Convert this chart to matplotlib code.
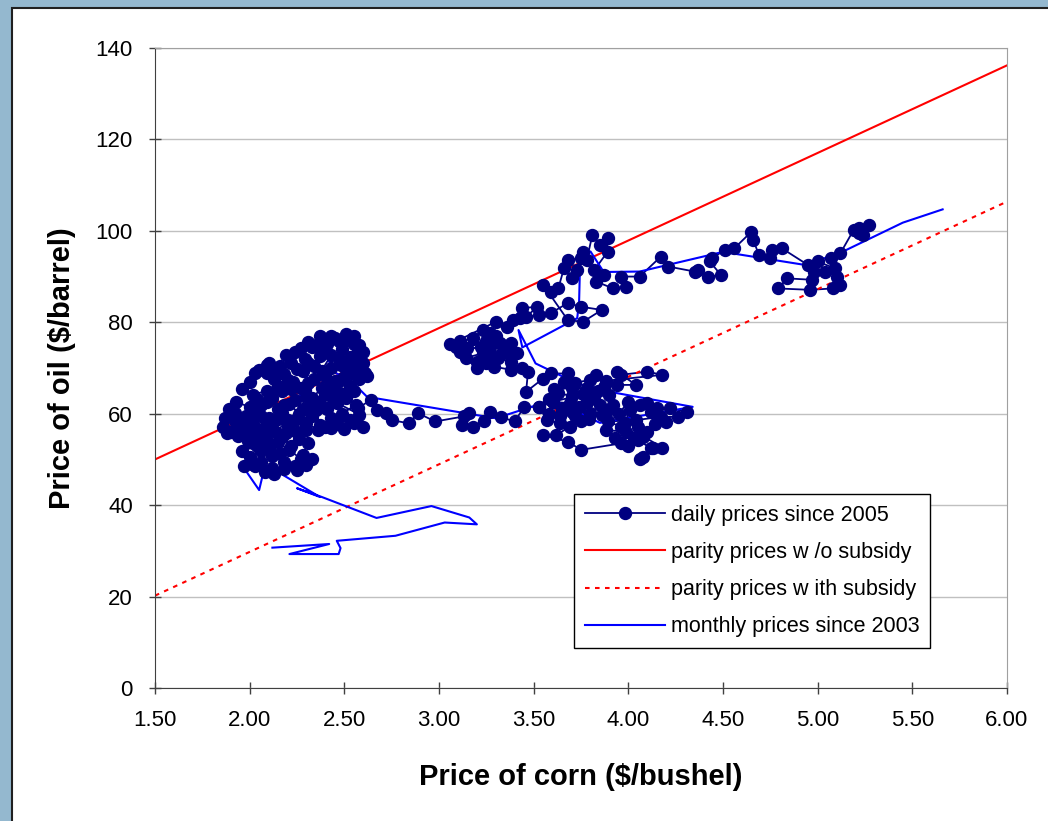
import matplotlib
matplotlib.use('Agg')
import matplotlib.pyplot as plt
from matplotlib.patches import Rectangle

plt.rcParams['font.family'] = ['Liberation Sans', 'DejaVu Sans']

# daily (corn $/bushel, oil $/barrel) prices, grouped by period
daily_2005_2006 = [
    (2.03, 48.5), (2.08, 47.2), (2.12, 48.2), (1.97, 48.6), (2.00, 50.5), (2.06, 51.8),
    (2.12, 50.8), (2.18, 49.5), (2.24, 48.6), (2.27, 50.2), (2.21, 52.0), (2.15, 53.8),
    (2.08, 55.0), (2.02, 53.5), (2.05, 56.5), (2.12, 57.8), (2.19, 55.8), (2.26, 54.4),
    (2.30, 56.5), (2.24, 58.6), (2.17, 60.2), (2.10, 59.0), (2.03, 60.8), (1.98, 59.4),
    (1.92, 60.2), (1.87, 59.0), (1.86, 57.2), (1.90, 56.1), (1.95, 57.3), (2.01, 58.2),
    (2.06, 61.8), (2.12, 63.5), (2.18, 62.0), (2.24, 63.0), (2.28, 61.0), (2.33, 59.6),
    (2.37, 57.6), (2.35, 60.8), (2.30, 63.6), (2.22, 65.4), (2.15, 66.0), (2.09, 65.0),
    (2.02, 64.2), (1.96, 65.3), (2.00, 67.0), (2.05, 69.6), (2.09, 68.8), (2.13, 67.6),
    (2.18, 68.6), (2.23, 67.0), (2.27, 65.6), (2.31, 66.8), (2.28, 69.4), (2.22, 71.0),
    (2.19, 72.8), (2.24, 73.6), (2.29, 72.0), (2.34, 70.4), (2.37, 72.6), (2.33, 74.6),
    (2.37, 76.9), (2.41, 75.2), (2.45, 76.6), (2.49, 74.2), (2.52, 76.2), (2.55, 76.9),
    (2.58, 75.0), (2.60, 73.6), (2.56, 71.8), (2.51, 70.3), (2.47, 72.0), (2.43, 70.0),
    (2.40, 68.2), (2.45, 67.2), (2.50, 68.0), (2.55, 68.6), (2.58, 67.6), (2.61, 69.0),
    (2.62, 68.2), (2.53, 66.0), (2.46, 65.0), (2.40, 64.4), (2.36, 62.6), (2.41, 61.0),
    (2.10, 52.5), (2.16, 51.5), (2.22, 53.0), (2.17, 55.0), (2.11, 56.2), (2.04, 55.5),
    (1.99, 54.0), (2.03, 57.2), (2.09, 58.0), (2.15, 58.8), (2.20, 57.4), (2.25, 56.0),
    (2.31, 53.6), (2.28, 51.0), (2.33, 50.0), (2.30, 48.8), (2.25, 47.6), (2.18, 47.8),
    (2.13, 46.9), (2.06, 49.4), (2.01, 49.0), (1.96, 51.8), (2.04, 53.0), (2.09, 54.0),
    (2.14, 56.0), (2.20, 58.6), (2.26, 60.0), (2.21, 62.2), (2.15, 61.0), (2.09, 62.6),
    (2.04, 63.2), (2.00, 61.5), (1.93, 62.5), (1.89, 61.0), (1.92, 58.4), (1.88, 55.8),
    (1.94, 55.2), (1.99, 56.5), (2.06, 59.6), (2.11, 64.5), (2.17, 65.0), (2.20, 67.4),
    (2.14, 69.2), (2.09, 70.6), (2.03, 69.0), (2.10, 71.0), (2.16, 70.4), (2.25, 69.8),
    (2.31, 71.2), (2.27, 74.4), (2.31, 75.6), (2.36, 75.2), (2.40, 73.6), (2.43, 77.0),
    (2.47, 75.8), (2.51, 77.4), (2.55, 75.2), (2.57, 73.8), (2.53, 72.4), (2.48, 70.6),
    (2.43, 72.8), (2.38, 69.4), (2.34, 67.6), (2.29, 65.2), (2.33, 63.4), (2.38, 65.6),
    (2.43, 66.6), (2.48, 67.4), (2.52, 69.6), (2.57, 70.2), (2.60, 71.0), (2.55, 65.0),
    (2.50, 64.0), (2.44, 63.2), (2.39, 61.4), (2.33, 61.8), (2.30, 58.0), (2.36, 56.4),
    (2.43, 56.8), (2.50, 56.6), (2.55, 58.0), (2.58, 59.8), (2.46, 62.4), (2.51, 63.4),
    (2.56, 62.0), (2.49, 60.0), (2.43, 59.0), (2.40, 57.2), (2.46, 57.8), (2.53, 58.6),
    (2.60, 57.2), (2.57, 61.2), (2.64, 63.0),
]
daily_late_2006 = [
    (2.67, 60.8), (2.72, 60.1), (2.75, 58.6), (2.84, 57.9), (2.89, 60.1), (2.98, 58.3),
    (3.13, 59.4), (3.16, 60.1), (3.12, 57.5), (3.18, 57.2), (3.24, 58.3), (3.27, 60.4),
    (3.33, 59.2), (3.40, 58.3), (3.45, 61.5), (3.53, 61.5), (3.57, 58.6), (3.64, 57.9),
    (3.60, 62.6), (3.69, 62.3), (3.78, 62.6), (3.75, 58.3), (3.69, 57.2), (3.62, 55.3),
    (3.55, 55.3), (3.68, 53.9), (3.75, 52.1),
]
daily_2007_h1 = [
    (3.96, 53.5), (4.03, 54.6), (4.05, 54.3), (4.12, 52.4), (4.08, 50.6), (4.06, 50.2),
    (4.13, 52.4), (4.18, 52.6), (4.08, 55.0), (4.00, 53.0), (3.93, 54.6), (3.88, 56.4),
    (3.99, 56.1), (3.96, 57.2), (3.89, 58.3), (4.04, 58.6), (4.17, 59.3), (4.26, 59.3),
    (4.31, 60.4), (4.22, 61.2), (4.15, 61.2), (4.10, 62.3), (4.01, 60.8), (3.98, 58.0),
    (4.05, 57.2), (4.10, 56.0), (4.14, 57.8), (4.20, 58.2), (4.12, 60.4), (4.06, 61.8),
    (4.00, 62.6), (3.95, 60.0), (3.89, 60.8), (3.78, 62.6), (3.58, 60.0), (3.64, 59.4),
    (3.70, 60.4), (3.74, 61.4), (3.80, 60.2), (3.85, 61.8), (3.82, 63.6), (3.76, 64.4),
    (3.70, 63.8), (3.63, 64.6), (3.58, 63.2), (3.65, 61.0), (3.72, 59.6), (3.79, 58.9),
    (3.86, 59.8), (3.92, 62.0), (3.90, 64.0), (3.84, 65.0), (3.60, 62.6), (3.53, 61.5),
    (3.61, 65.4), (3.70, 65.6), (3.78, 65.6), (3.87, 65.9), (3.94, 66.3), (4.04, 66.3),
    (3.94, 69.2), (3.96, 68.5), (4.10, 69.2), (4.18, 68.5), (3.88, 67.2), (3.83, 68.5),
    (3.80, 67.4), (3.72, 66.8), (3.66, 67.0), (3.68, 68.8), (3.59, 68.8), (3.55, 67.7),
    (3.46, 64.8),
]
daily_2007_h2 = [
    (3.47, 69.2), (3.44, 69.9), (3.38, 69.6), (3.29, 70.3), (3.20, 71.4), (3.31, 72.1),
    (3.38, 71.4), (3.41, 73.2), (3.36, 73.2), (3.32, 75.4), (3.38, 75.4), (3.30, 76.9),
    (3.27, 77.6), (3.23, 78.3), (3.18, 76.5), (3.11, 75.8), (3.09, 74.7), (3.11, 73.6),
    (3.22, 74.7), (3.27, 74.7), (3.23, 73.2), (3.14, 72.2), (3.20, 70.0), (3.25, 71.0),
    (3.28, 72.8), (3.34, 73.8), (3.25, 76.0), (3.15, 74.4), (3.06, 75.2),
    (3.30, 80.1), (3.36, 79.0), (3.39, 80.5), (3.43, 80.9), (3.44, 83.1), (3.52, 83.4),
    (3.46, 81.2), (3.53, 81.6), (3.59, 82.0), (3.68, 84.2), (3.75, 83.4), (3.86, 82.7),
    (3.76, 80.1), (3.68, 80.5), (3.55, 88.2), (3.59, 86.7), (3.63, 87.4), (3.66, 91.8),
    (3.70, 89.6), (3.73, 91.4), (3.68, 93.6), (3.75, 94.0), (3.76, 95.4), (3.78, 93.6),
    (3.81, 99.1), (3.85, 96.9), (3.89, 98.4), (3.89, 95.4), (3.82, 91.4), (3.87, 90.3),
    (3.83, 88.9), (3.92, 87.4), (3.99, 87.8), (3.96, 90.0), (4.06, 90.0),
]
daily_2008 = [
    (4.17, 94.3), (4.21, 92.2), (4.35, 91.1), (4.37, 91.4), (4.42, 90.0), (4.49, 90.3),
    (4.43, 93.3), (4.44, 94.0), (4.51, 95.8), (4.56, 96.2), (4.65, 99.8), (4.66, 98.0),
    (4.69, 94.7), (4.75, 94.0), (4.76, 95.8), (4.81, 96.2), (4.95, 92.5), (4.98, 91.1),
    (4.97, 89.3), (4.84, 89.6), (4.79, 87.4), (4.96, 87.1), (5.08, 87.4), (5.12, 88.2),
    (5.10, 90.0), (5.04, 91.1), (5.00, 93.3), (5.09, 91.8), (5.07, 94.0), (5.12, 95.1),
    (5.19, 100.2), (5.22, 100.6), (5.27, 101.3), (5.24, 99.1), (5.22, 99.5),
]

daily = daily_2005_2006 + daily_late_2006 + daily_2007_h1 + daily_2007_h2 + daily_2008
daily_corn = [c for c, o in daily]
daily_oil = [o for c, o in daily]

# monthly averages since 2003
monthly_corn = [2.12, 2.42, 2.21, 2.47, 2.48, 2.46, 2.77, 3.03, 3.20, 3.16, 2.96, 2.67, 2.38,
                2.25, 2.37, 2.16, 1.97, 2.05, 2.08, 2.02, 2.15, 2.25, 2.32, 2.40, 2.45, 2.53,
                2.62, 3.30, 3.60, 3.85, 4.34, 3.94, 3.73, 3.51, 3.42, 3.44, 3.73, 3.74, 3.745,
                3.80, 3.87, 4.06, 4.50, 4.94, 5.15, 5.45, 5.66]
monthly_oil = [30.7, 31.5, 29.3, 29.3, 30.6, 32.2, 33.3, 36.2, 35.8, 37.3, 39.8, 37.2, 41.8,
               43.7, 41.8, 47.0, 48.1, 43.3, 48.5, 55.0, 60.0, 62.0, 70.0, 73.0, 69.0, 67.4,
               63.7, 59.0, 63.0, 58.0, 61.5, 64.5, 66.6, 71.0, 78.3, 74.5, 80.9, 84.5, 92.9,
               95.5, 91.0, 91.1, 95.4, 92.5, 95.8, 101.8, 104.7]

# parity price lines
parity_corn = [1.50, 6.00]
parity_oil = [50.0, 136.2]
subsidy_oil = [20.2, 106.4]

navy = '#000080'

fig = plt.figure(figsize=(10.48, 8.21), dpi=100)
fig.patch.set_facecolor('#94b8cf')
# white slide panel behind the chart
panel = Rectangle((12 / 1048, -0.05), 1.05, 1.05 - 8 / 821, transform=fig.transFigure,
                  facecolor='white', edgecolor='#202020', linewidth=1.5, zorder=-1)
fig.patches.append(panel)

ax = fig.add_axes([155 / 1048, 1 - 688 / 821, 852 / 1048, 640 / 821])
ax.set_zorder(1)
ax.patch.set_alpha(0)

# all lines first, daily markers on top
ax.plot(daily_corn, daily_oil, color=navy, linewidth=1.3, zorder=2)
ax.plot(parity_corn, parity_oil, color='#ff0000', linewidth=1.5, zorder=2,
        label='parity prices w /o subsidy')
ax.plot(parity_corn, subsidy_oil, color='#ff0000', linewidth=1.5, linestyle=(0, (2.2, 2.6)),
        zorder=2, label='parity prices w ith subsidy')
ax.plot(monthly_corn, monthly_oil, color='#0000ff', linewidth=1.5, zorder=2,
        label='monthly prices since 2003')
ax.plot(daily_corn, daily_oil, linestyle='None', marker='o', markersize=8.6,
        color=navy, zorder=4)
# legend entry for the daily series
ax.plot([], [], color=navy, linewidth=1.3, marker='o', markersize=8.6,
        label='daily prices since 2005')

ax.set_xlim(1.5, 6.0)
ax.set_ylim(0, 140)
ax.set_xticks([1.5, 2.0, 2.5, 3.0, 3.5, 4.0, 4.5, 5.0, 5.5, 6.0])
ax.set_xticklabels(['%.2f' % v for v in ax.get_xticks()])
ax.set_yticks(range(0, 141, 20))
ax.yaxis.grid(True, color='#c0c0c0', linewidth=1)
ax.set_axisbelow(True)

for side in ['top', 'right']:
    ax.spines[side].set_color('#a0a0a0')
for side in ['left', 'bottom']:
    ax.spines[side].set_color('#404040')
ax.tick_params(direction='inout', length=8, width=1, color='#404040', labelsize=16)
ax.tick_params(axis='x', pad=12)
ax.tick_params(axis='y', pad=12)

ax.set_xlabel('Price of corn ($/bushel)', fontsize=21, fontweight='bold', labelpad=23)
ax.set_ylabel('Price of oil ($/barrel)', fontsize=21, fontweight='bold', labelpad=14)

handles, labels = ax.get_legend_handles_labels()
order = [3, 0, 1, 2]
leg = ax.legend([handles[i] for i in order], [labels[i] for i in order],
                loc='upper left', bbox_to_anchor=(0.492, 0.303), fontsize=15.5,
                handlelength=3.7, handletextpad=0.3, labelspacing=0.75, borderpad=0.5,
                borderaxespad=0, frameon=True, fancybox=False, edgecolor='black',
                framealpha=1)
leg.get_frame().set_linewidth(1.0)

fig.savefig('out.png', dpi=100, facecolor=fig.get_facecolor())
